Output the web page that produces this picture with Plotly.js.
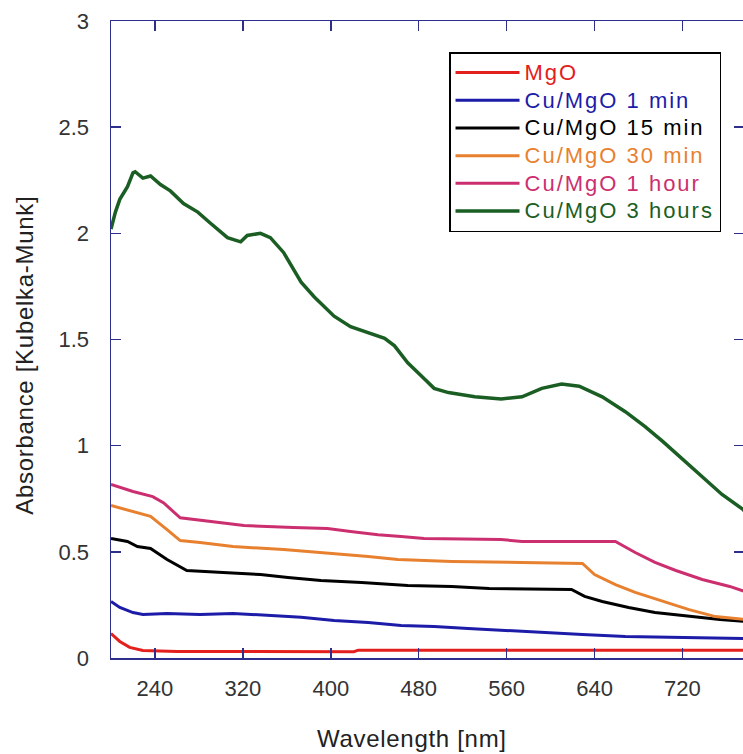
<!DOCTYPE html>
<html>
<head>
<meta charset="utf-8">
<script src="https://cdn.plot.ly/plotly-3.0.1.min.js"></script>
<style>
html,body{margin:0;padding:0;overflow:hidden;background:#fff;}
#chart{width:746px;height:754px;}
</style>
</head>
<body>
<div id="chart"></div>
<script>
// Wavelength (nm) and absorbance (Kubelka-Munk)
var wlMgO   = [200, 208, 217, 229, 260, 311, 421, 425, 555, 777];
var absMgO  = [0.115, 0.078, 0.05, 0.035, 0.031, 0.03, 0.03, 0.037, 0.036, 0.036];

var wl1min  = [200, 208, 220, 229, 251, 281, 311, 343, 373, 403, 434, 464, 494, 525, 555, 595, 629, 668, 717, 777];
var abs1min = [0.266, 0.238, 0.214, 0.205, 0.21, 0.205, 0.21, 0.2, 0.192, 0.177, 0.167, 0.153, 0.148, 0.139, 0.13, 0.12, 0.111, 0.101, 0.097, 0.092];

var wl15min  = [200, 215, 224, 236, 251, 269, 302, 336, 361, 391, 428, 470, 510, 544, 619, 631, 647, 671, 695, 726, 754, 777];
var abs15min = [0.563, 0.549, 0.525, 0.516, 0.464, 0.412, 0.403, 0.393, 0.379, 0.365, 0.356, 0.342, 0.337, 0.327, 0.323, 0.29, 0.266, 0.238, 0.214, 0.195, 0.181, 0.172];

var wl30min  = [200, 220, 236, 251, 263, 281, 311, 357, 391, 403, 434, 461, 510, 574, 629, 640, 659, 677, 702, 726, 750, 777];
var abs30min = [0.718, 0.69, 0.667, 0.605, 0.553, 0.544, 0.525, 0.511, 0.497, 0.492, 0.478, 0.464, 0.455, 0.45, 0.445, 0.393, 0.346, 0.309, 0.266, 0.228, 0.195, 0.181];

var wl1h  = [200, 220, 238, 248, 263, 281, 300, 321, 366, 397, 418, 443, 464, 485, 555, 574, 659, 677, 695, 714, 738, 763, 777];
var abs1h = [0.817, 0.784, 0.76, 0.73, 0.66, 0.648, 0.638, 0.624, 0.615, 0.61, 0.596, 0.58, 0.572, 0.563, 0.558, 0.549, 0.549, 0.497, 0.45, 0.412, 0.37, 0.337, 0.313];

var wl3h  = [200, 204, 208, 215, 220, 222, 229, 236, 245, 254, 266, 279, 290, 306, 318, 324, 336, 345, 357, 373, 385, 403, 418, 434, 449, 458, 470, 482, 494, 507, 531, 555, 574, 592, 610, 626, 647, 668, 686, 702, 720, 738, 756, 775, 777];
var abs3h = [2.02, 2.10, 2.16, 2.22, 2.285, 2.29, 2.26, 2.27, 2.23, 2.20, 2.14, 2.10, 2.05, 1.98, 1.96, 1.99, 2.00, 1.98, 1.91, 1.77, 1.70, 1.61, 1.56, 1.53, 1.505, 1.47, 1.39, 1.33, 1.27, 1.25, 1.23, 1.22, 1.23, 1.27, 1.29, 1.28, 1.23, 1.16, 1.09, 1.02, 0.935, 0.85, 0.77, 0.70, 0.69];

var seriesNames  = ["MgO", "Cu/MgO 1 min", "Cu/MgO 15 min", "Cu/MgO 30 min", "Cu/MgO 1 hour", "Cu/MgO 3 hours"];
var seriesColors = ["#e3201b", "#1c1ca8", "#000000", "#e8812f", "#cc2f6f", "#1b5e24"];
var seriesX = [wlMgO, wl1min, wl15min, wl30min, wl1h, wl3h];
var seriesY = [absMgO, abs1min, abs15min, abs30min, abs1h, abs3h];

var xTicks = [240, 320, 400, 480, 560, 640, 720];
var yTicks = [0, 0.5, 1, 1.5, 2, 2.5, 3];
var yTickText = ["0", "0.5", "1", "1.5", "2", "2.5", "3"];
var xTitle = "Wavelength [nm]";
var yTitle = "Absorbance [Kubelka-Munk]";

var traces = seriesNames.map(function(n, i){
  return {
    x: seriesX[i], y: seriesY[i], type: 'scatter', mode: 'lines',
    name: '<span style="font-size:22px;letter-spacing:2px;color:' + seriesColors[i] + '">' + n + '</span>',
    line: {color: seriesColors[i], width: i === 5 ? 3.5 : 3}
  };
});

var axisColor = '#2e2e8c';
var titleStyle = 'letter-spacing:0.7px';
var layout = {
  width: 746, height: 754,
  margin: {l: 111, r: 2, t: 21, b: 96},
  paper_bgcolor: '#fff', plot_bgcolor: '#fff',
  font: {family: 'Liberation Sans, Arial, sans-serif', color: '#333'},
  showlegend: true,
  legend: {
    x: 0.534, y: 0.951, xanchor: 'left', yanchor: 'top',
    bgcolor: '#fff', bordercolor: '#000', borderwidth: 1.5,
    font: {size: 19, family: 'Liberation Sans, Arial, sans-serif'},
    itemwidth: 64, tracegroupgap: 0
  },
  xaxis: {
    range: [200, 776], tickvals: xTicks, ticks: 'inside', ticklen: 10, tickwidth: 1.5,
    tickcolor: axisColor, showline: true, linecolor: axisColor, linewidth: 1.5,
    mirror: 'ticks', showgrid: false, zeroline: false,
    tickfont: {size: 22, color: '#333'}, ticklabelstandoff: 10
  },
  yaxis: {
    range: [0, 3], tickvals: yTicks, ticktext: yTickText, ticks: 'inside', ticklen: 10, tickwidth: 1.5,
    tickcolor: axisColor, showline: true, linecolor: axisColor, linewidth: 1.5,
    mirror: 'ticks', showgrid: false, zeroline: false,
    tickfont: {size: 22, color: '#333'}, ticklabelstandoff: 16
  },
  annotations: [
    {text: '<span style="' + titleStyle + '">' + xTitle + '</span>', xref: 'paper', yref: 'paper',
     x: 0.4755, y: -0.126, xanchor: 'center', yanchor: 'middle', showarrow: false,
     font: {size: 24, color: '#222'}},
    {text: '<span style="' + titleStyle + '">' + yTitle + '</span>', xref: 'paper', yref: 'paper',
     x: -0.136, y: 0.476, xanchor: 'center', yanchor: 'middle', showarrow: false, textangle: -90,
     font: {size: 24, color: '#222'}}
  ]
};

Plotly.newPlot('chart', traces, layout, {staticPlot: true, displayModeBar: false});
</script>
</body>
</html>
